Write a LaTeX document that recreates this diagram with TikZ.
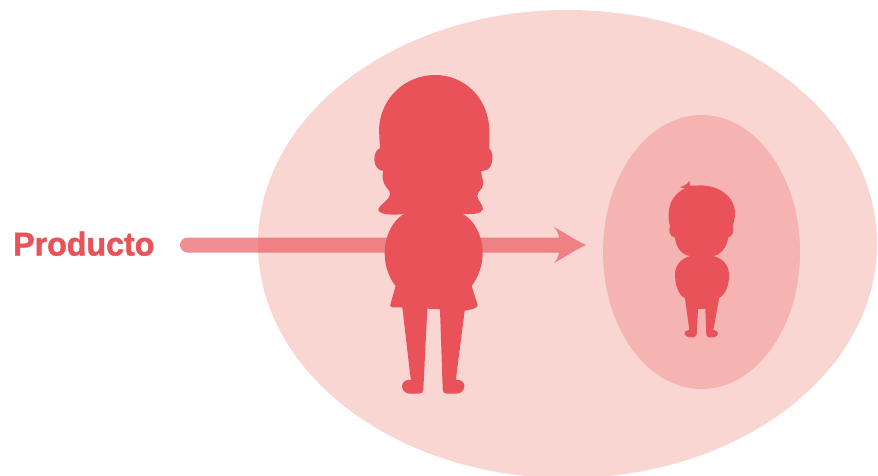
\documentclass[tikz,border=0pt]{standalone}
\usepackage{fontspec}
\setmainfont{Liberation Sans}
\newfontfamily\labelfont[BoldFont={Liberation Sans Bold},BoldFeatures={FakeBold=1.5}]{Liberation Sans}
\definecolor{figred}{HTML}{EA5259}
\definecolor{outerpink}{HTML}{F9D6D2}
\definecolor{innerpink}{HTML}{F5B3B2}
\tikzset{
  silhouette/.style={fill=figred,draw=none},
  zoomA/.style={shift={(360,60)},x=0.3333pt,y=-0.3333pt},
  zoomB/.style={shift={(360,200)},x=0.3333pt,y=-0.3333pt},
  zoomC/.style={shift={(650,170)},x=0.3333pt,y=-0.3333pt},
}
\begin{document}
\begin{tikzpicture}[x=1pt,y=-1pt]
\useasboundingbox (0,0) rectangle (878,476);
\fill[white] (0,0) rectangle (878,476);
\fill[outerpink] (567.5,244) ellipse [x radius=309.5,y radius=234];
\fill[innerpink] (701.5,252) ellipse [x radius=98.5,y radius=137];
% arrow
\fill[figred,opacity=0.65] (187.5,237.5) -- (559,237.5) .. controls (559,235) and (557,230) .. (554,227)
  .. controls (565,233) and (575,240) .. (586,245)
  .. controls (575,250) and (565,257) .. (554,263)
  .. controls (557,260) and (559,255) .. (559,252.5) -- (187.5,252.5)
  .. controls (183.4,252.5) and (180,249.1) .. (180,245)
  .. controls (180,240.9) and (183.4,237.5) .. (187.5,237.5) -- cycle;
\node[anchor=base west,inner sep=0pt,text=figred,font=\labelfont\fontsize{33}{36}\selectfont\bfseries,xscale=0.975] (label) at (13,255.5) {Producto};
% big figure: head
\begin{scope}[zoomA]
\fill[silhouette] (225,45) .. controls (310,45) and (385,110) .. (388,210)
  -- (388,265) .. controls (398,275) and (400,295) .. (395,310)
  .. controls (390,328) and (378,333) .. (364,333)
  .. controls (362,345) and (372,360) .. (369,375)
  .. controls (366,390) and (352,395) .. (352,408)
  .. controls (352,420) and (370,435) .. (369,448)
  .. controls (365,462) and (335,464) .. (305,462)
  -- (135,462)
  .. controls (100,466) and (60,465) .. (55,450)
  .. controls (55,435) and (90,420) .. (90,402)
  .. controls (90,390) and (78,385) .. (72,370)
  .. controls (66,355) and (67,345) .. (70,333)
  .. controls (55,332) and (44,320) .. (43,298)
  .. controls (43,280) and (50,268) .. (60,265)
  -- (57,210) .. controls (60,110) and (140,45) .. (225,45) -- cycle;
\end{scope}
% big figure: body
\begin{scope}[zoomB]
\fill[silhouette] (135,40) -- (305,40)
  .. controls (345,60) and (368,110) .. (368,160)
  .. controls (368,200) and (352,235) .. (335,258)
  -- (353,315) .. controls (355,322) and (340,328) .. (314,332)
  -- (290,520) -- (288,540) -- (298,540)
  .. controls (308,542) and (314,552) .. (313,560)
  .. controls (312,572) and (303,580) .. (290,581)
  -- (262,581) .. controls (252,581) and (248,575) .. (248,565)
  -- (240,328) -- (202,326) -- (190,568)
  .. controls (190,576) and (186,581) .. (178,581)
  -- (148,581) .. controls (135,580) and (126,570) .. (126,558)
  .. controls (127,548) and (135,540) .. (145,540)
  -- (153,540) -- (150,520) -- (127,322)
  -- (97,322) .. controls (92,321) and (90,318) .. (91,314)
  -- (107,258)
  .. controls (88,235) and (74,200) .. (74,160)
  .. controls (74,110) and (97,60) .. (135,40) -- cycle;
\end{scope}
% small figure
\begin{scope}[zoomC]
\fill[silhouette] (90,52) .. controls (98,47) and (110,47) .. (118,32)
  .. controls (120,38) and (120,42) .. (120,47)
  .. controls (125,47) and (130,46) .. (135,47)
  .. controls (205,40) and (255,80) .. (255,130)
  .. controls (255,145) and (250,160) .. (248,170)
  .. controls (252,180) and (250,200) .. (234,203)
  .. controls (232,230) and (212,255) .. (190,258)
  .. controls (218,265) and (236,285) .. (237,312)
  .. controls (238,340) and (230,370) .. (207,385)
  -- (190,480) -- (195,481) .. controls (208,483) and (207,500) .. (190,502)
  -- (178,502) .. controls (172,501) and (169,498) .. (169,494)
  -- (166,417) -- (144,417) -- (140,494)
  .. controls (140,498) and (135,501) .. (130,502)
  -- (118,502) .. controls (100,500) and (100,483) .. (113,481)
  -- (118,480) -- (105,385)
  .. controls (85,375) and (75,345) .. (75,312)
  .. controls (75,285) and (95,265) .. (120,258)
  .. controls (95,255) and (76,230) .. (75,203)
  .. controls (58,200) and (55,180) .. (60,170)
  .. controls (56,155) and (55,140) .. (56,128)
  .. controls (58,95) and (75,70) .. (105,55)
  -- cycle;
\end{scope}
\end{tikzpicture}
\end{document}
